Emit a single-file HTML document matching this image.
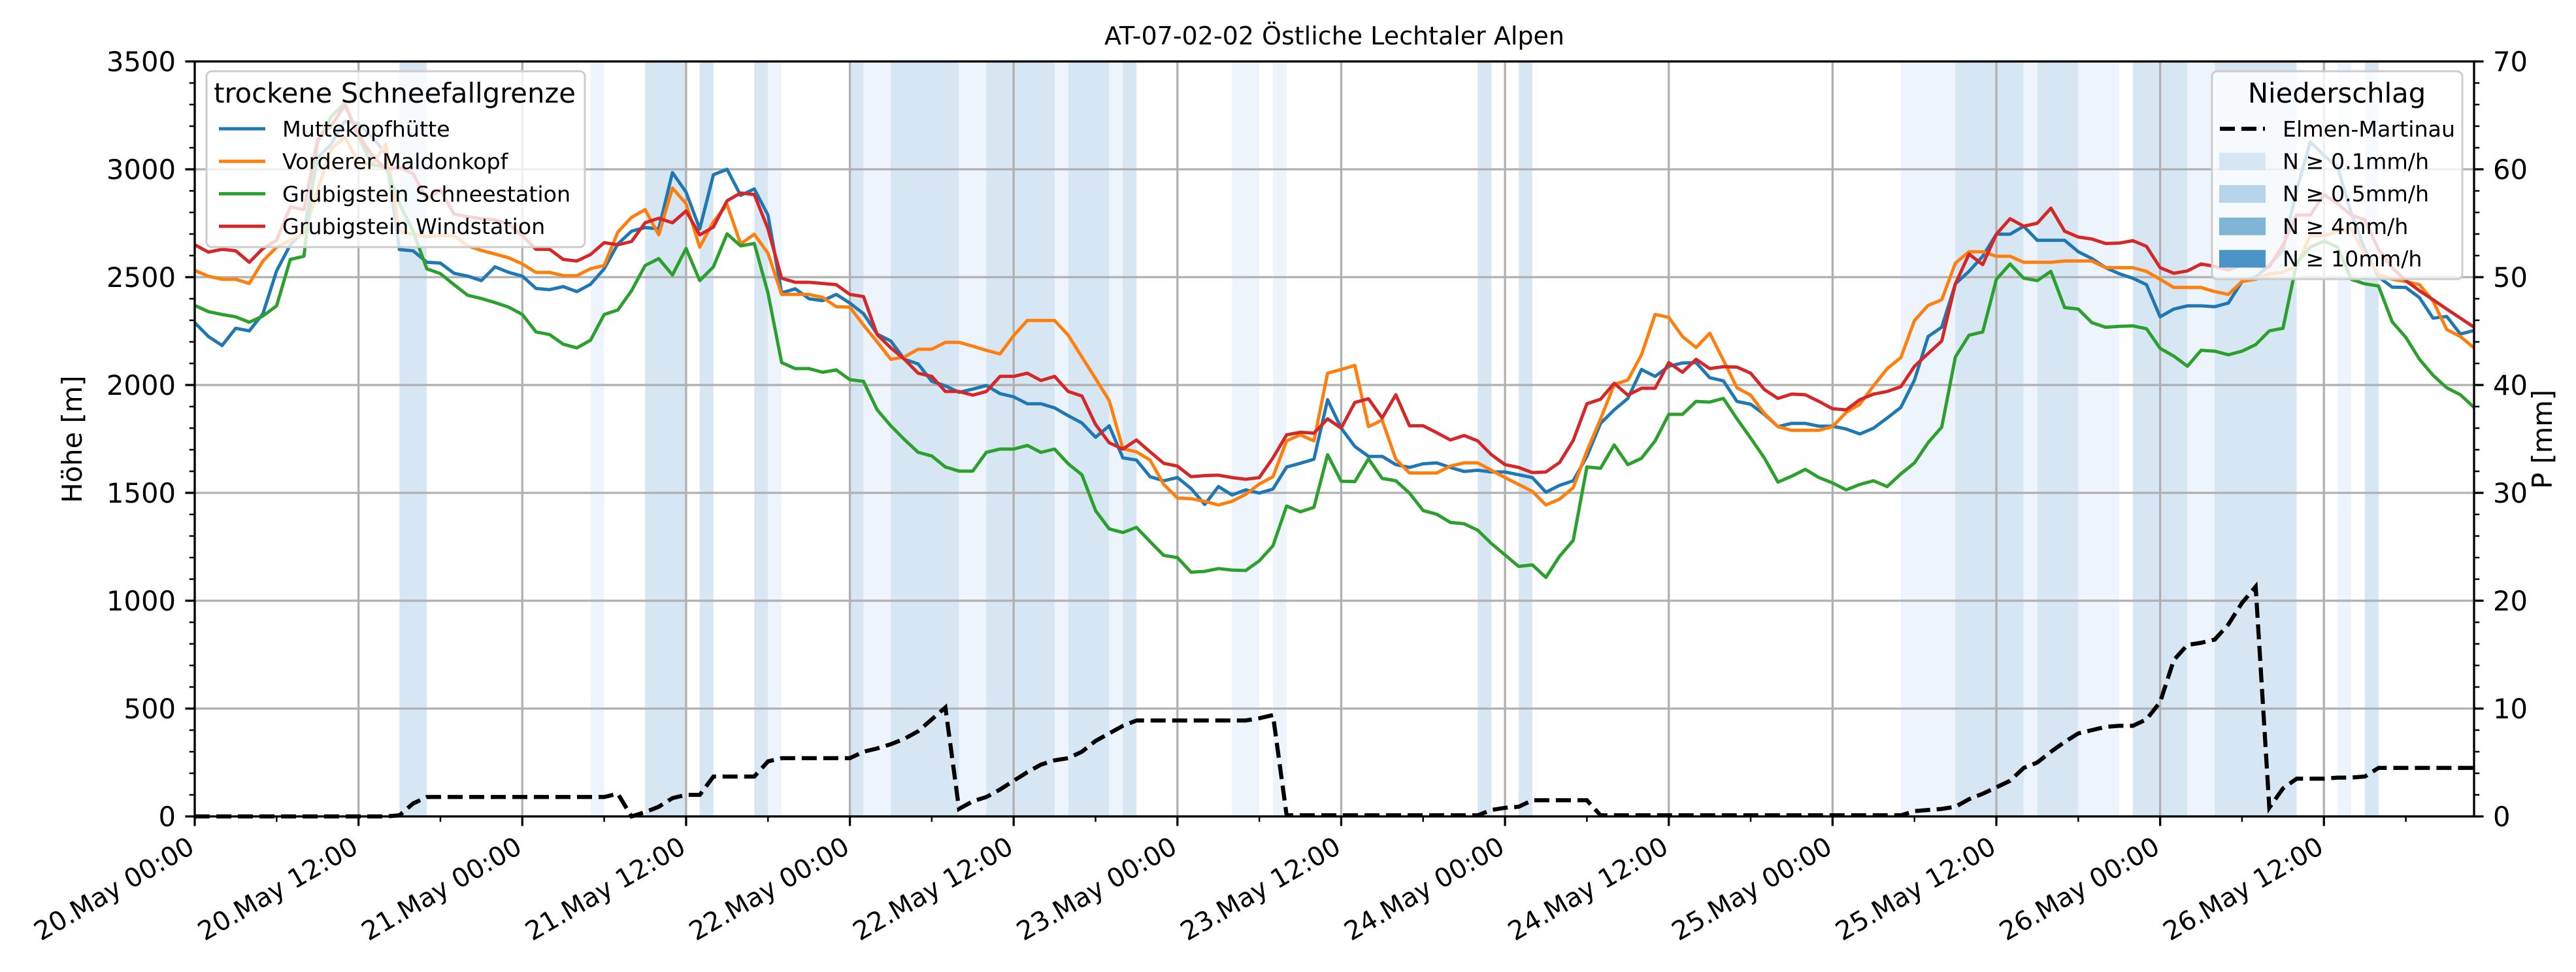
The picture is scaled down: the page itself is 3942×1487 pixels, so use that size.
<!DOCTYPE html>
<html><head><meta charset="utf-8"><style>
html,body{margin:0;padding:0;background:#fff;}
svg{display:block;font-family:"DejaVu Sans","Liberation Sans",sans-serif;}
</style></head><body>
<svg id="chart" width="3942" height="1487" viewBox="0 0 3942 1487" xmlns="http://www.w3.org/2000/svg">
<rect x="0" y="0" width="3942" height="1487" fill="#fff"/>
<text x="2042" y="68" font-size="38" text-anchor="middle">AT-07-02-02 Östliche Lechtaler Alpen</text>
<text transform="translate(125,672) rotate(-90)" font-size="41.7" text-anchor="middle">Höhe [m]</text>
<text transform="translate(3905,672) rotate(-90)" font-size="41.7" text-anchor="middle">P [mm]</text>
</svg>
<script>
const muttekopf = [2289,2225,2183,2263,2251,2331,2529,2650,2713,3053,3117,3223,3212,3150,3074,2628,2622,2569,2565,2518,2505,2484,2548,2522,2505,2448,2442,2456,2433,2467,2539,2654,2713,2730,
2724,2985,2894,2724,2975,3000,2879,2909,2788,2427,2446,2400,2391,2420,2380,2331,2236,2204,2119,2098,2017,1996,1966,1981,1998,1960,1945,1913,1913,1894,1858,1824,1758,
1811,1662,1652,1575,1556,1571,1520,1446,1529,1490,1514,1499,1518,1620,1637,1656,1932,1800,1715,1669,1669,1631,1618,1635,1639,1618,1599,1605,1597,1597,1584,1571,1503,
1535,1556,1669,1822,1885,1938,2072,2040,2087,2102,2104,2034,2019,1924,1911,1864,1807,1822,1822,1809,1809,1796,1773,1800,1847,1896,2023,2225,2268,2469,2527,2597,2699,
2699,2736,2671,2671,2671,2618,2586,2544,2516,2495,2465,2316,2352,2367,2367,2363,2380,2480,2501,2554,2628,2904,3127,3064,3011,2798,2628,2501,2454,2452,2405,2310,2318,2236,2253];
const maldonkopf = [2531,2505,2490,2490,2471,2575,2639,2671,2703,2904,3096,3149,3032,3021,3117,2709,2699,2688,2692,2692,2645,2624,2607,2590,2561,2522,2522,2507,2507,2539,2554,2709,2777,2813,
2696,2913,2841,2639,2756,2837,2654,2699,2611,2420,2420,2420,2406,2363,2361,2278,2200,2119,2130,2166,2166,2198,2198,2180,2161,2144,2229,2299,2299,2299,2231,2130,2030,
1928,1705,1690,1652,1539,1476,1473,1461,1444,1461,1493,1541,1575,1741,1769,1741,2055,2072,2091,1807,1837,1656,1592,1592,1592,1624,1639,1639,1605,1571,1539,1507,1444,
1471,1524,1694,1843,2002,2023,2140,2327,2314,2225,2174,2240,2115,1987,1953,1868,1807,1790,1790,1790,1807,1873,1911,1996,2076,2127,2299,2369,2395,2565,2618,2618,2597,
2597,2569,2569,2569,2575,2575,2575,2544,2544,2544,2527,2490,2452,2452,2452,2433,2420,2480,2490,2516,2522,2554,2692,2692,2713,2724,2607,2512,2490,2480,2465,2389,2257,2225,2172];
const schneestation = [2369,2340,2327,2316,2291,2320,2367,2582,2597,3127,3244,3308,3150,3021,3010,2841,2713,2539,2516,2465,2416,2401,2382,2361,2327,2246,2234,2189,2172,2208,2327,2348,2437,2554,
2586,2510,2633,2484,2548,2701,2645,2656,2427,2104,2076,2076,2059,2070,2025,2017,1885,1811,1747,1688,1671,1620,1601,1601,1688,1703,1703,1720,1688,1703,1635,1584,1418,
1333,1316,1340,1274,1210,1200,1132,1136,1149,1142,1140,1185,1255,1439,1412,1433,1677,1554,1552,1658,1567,1556,1499,1418,1401,1363,1357,1327,1265,1212,1159,1166,1108,
1206,1280,1620,1614,1722,1631,1660,1741,1864,1864,1924,1921,1938,1843,1754,1662,1550,1577,1609,1571,1546,1514,1539,1556,1529,1588,1639,1733,1805,2130,2231,2246,2490,
2561,2495,2484,2527,2359,2352,2289,2268,2272,2274,2261,2170,2134,2087,2161,2157,2140,2157,2187,2251,2263,2565,2639,2667,2639,2490,2469,2459,2293,2221,2119,2045,1987,1955,1896];
const windstation = [2650,2616,2629,2622,2569,2633,2671,2826,2813,3138,3202,3297,3160,3064,3000,3010,2979,2862,2904,2792,2781,2771,2766,2745,2692,2629,2629,2582,2575,2605,2660,2650,2665,2752,
2773,2752,2807,2696,2732,2854,2890,2883,2724,2495,2476,2476,2471,2465,2420,2410,2234,2172,2119,2055,2040,1970,1970,1953,1970,2040,2040,2055,2021,2040,1970,1949,1817,
1732,1703,1745,1690,1637,1624,1575,1580,1582,1571,1563,1571,1662,1769,1781,1777,1843,1800,1919,1936,1847,1955,1811,1811,1779,1745,1766,1741,1677,1631,1618,1594,1597,
1641,1743,1913,1934,2008,1953,1985,1985,2104,2059,2119,2076,2085,2083,2055,1979,1938,1958,1955,1924,1890,1885,1932,1958,1970,1992,2087,2146,2204,2469,2607,2558,2699,
2771,2736,2750,2820,2713,2686,2677,2656,2658,2669,2643,2544,2518,2529,2561,2550,2533,2558,2550,2548,2650,2788,2788,2883,2841,2788,2766,2628,2544,2484,2437,2395,2352,2310,2268];
const precip = [0,0,0,0,0,0,0,0,0,0,0,0,0,0,0,0.1,1.2,1.8,1.8,1.8,1.8,1.8,1.8,1.8,1.8,1.8,1.8,1.8,1.8,1.8,1.8,
2.1,0,0.4,0.9,1.7,2.0,2.0,3.7,3.7,3.7,3.7,5.1,5.4,5.4,5.4,5.4,5.4,5.4,6.0,6.3,6.7,7.2,7.9,9.0,10.1,
0.7,1.4,1.8,2.5,3.3,4.1,4.8,5.2,5.4,6.0,7.0,7.7,8.4,8.9,8.9,8.9,8.9,8.9,8.9,8.9,8.9,8.9,9.1,9.4,
0.1,0.1,0.1,0.1,0.1,0.1,0.1,0.1,0.1,0.1,0.1,0.1,0.1,0.1,0.1,0.6,0.8,0.9,1.5,1.5,1.5,1.5,1.5,
0.1,0.1,0.1,0.1,0.1,0.1,0.1,0.1,0.1,0.1,0.1,0.1,0.1,0.1,0.1,0.1,0.1,0.1,0.1,0.1,0.1,0.1,0.1,
0.5,0.6,0.7,0.9,1.6,2.1,2.7,3.3,4.5,5.0,6.0,6.9,7.7,8.0,8.3,8.4,8.4,9.0,10.6,14.5,15.9,16.1,16.4,17.8,19.8,21.3,
0.8,2.6,3.5,3.5,3.5,3.6,3.6,3.7,4.5,4.5,4.5,4.5,4.5,4.5,4.5,4.5];
const rainStart = [15,29,33,37,41,42,48,49,51,56,58,63,64,67,68,76,79,94,97,125,129,134,135,138,142,146,148,157,159];
const rainEnd   = [17,30,36,38,42,43,49,51,56,58,63,64,67,68,69,78,80,95,98,129,134,135,138,141,146,148,154,158,160];
const rainLevel = [2,1,2,2,2,1,2,1,2,1,2,1,2,1,2,1,1,2,2,1,2,1,2,1,2,1,2,1,2];
const yTicks = [0,500,1000,1500,2000,2500,3000,3500];
const pTicks = [0,10,20,30,40,50,60,70];
const xTickHours = [0,12,24,36,48,60,72,84,96,108,120,132,144,156];
const xTickLabels = ["20.May 00:00","20.May 12:00","21.May 00:00","21.May 12:00","22.May 00:00","22.May 12:00","23.May 00:00","23.May 12:00","24.May 00:00","24.May 12:00","25.May 00:00","25.May 12:00","26.May 00:00","26.May 12:00"];
const seriesNames = ["Muttekopfhütte","Vorderer Maldonkopf","Grubigstein Schneestation","Grubigstein Windstation"];
const seriesColors = ["#1f77b4","#ff7f0e","#2ca02c","#d62728"];

const L=298,R=3786,T=94,B=1249,HMAX=167;
function X(h){return L+h*(R-L)/HMAX;}
function Y(m){return B-m*(B-T)/3500;}
function YP(p){return B-p*(B-T)/70;}
const NS="http://www.w3.org/2000/svg";
const svg=document.getElementById('chart');
function mk(tag,attrs,parent){const e=document.createElementNS(NS,tag);for(const k in attrs)e.setAttribute(k,attrs[k]);(parent||svg).appendChild(e);return e;}

const gBands=mk('g',{});


rainStart.forEach((s,i)=>{
  const r=mk('rect',{x:X(s),y:T,width:X(rainEnd[i])-X(s),height:B-T,fill:rainLevel[i]===2?'#d6e6f3':'#eef4fb'},gBands);
  
  
});
const gGrid=mk('g',{stroke:'#b0b0b0','stroke-width':3.3});


yTicks.forEach(v=>{const l=mk('line',{x1:L,x2:R,y1:Y(v),y2:Y(v)},gGrid);});
xTickHours.forEach(h=>{const l=mk('line',{x1:X(h),x2:X(h),y1:T,y2:B},gGrid);});
[muttekopf,maldonkopf,schneestation,windstation].forEach((arr,si)=>{
  const p=mk('polyline',{points:arr.map((v,i)=>X(i).toFixed(1)+','+Y(v).toFixed(1)).join(' '),fill:'none',stroke:seriesColors[si],'stroke-width':5,'stroke-linejoin':'round'});
  
  
});
const gL=mk('g',{});


mk('rect',{x:316,y:109,width:579,height:269,rx:8,fill:'rgba(255,255,255,0.8)',stroke:'#cccccc','stroke-width':3},gL);
const lt=mk('text',{x:604,y:157,'font-size':41.7,'text-anchor':'middle'},gL);lt.textContent='trockene Schneefallgrenze';


seriesNames.forEach((n,i)=>{
  const yy=197+i*49.7;
  const ln=mk('line',{x1:335,x2:406,y1:yy,y2:yy,stroke:seriesColors[i],'stroke-width':5},gL);
  
  
  const t=mk('text',{x:432,y:yy+12,'font-size':33.3},gL);t.textContent=n;
  
  
});
const pl=mk('polyline',{points:precip.map((v,i)=>X(i).toFixed(1)+','+YP(v).toFixed(1)).join(' '),fill:'none',stroke:'#000','stroke-width':6.25,'stroke-dasharray':'23 10'});


const gR=mk('g',{});


mk('rect',{x:3385,y:109,width:383,height:318,rx:8,fill:'rgba(255,255,255,0.8)',stroke:'#cccccc','stroke-width':3},gR);
const rt=mk('text',{x:3576,y:157,'font-size':41.7,'text-anchor':'middle'},gR);rt.textContent='Niederschlag';


const dl=mk('line',{x1:3397,x2:3466,y1:197,y2:197,stroke:'#000','stroke-width':6.25,'stroke-dasharray':'23 10'},gR);


const rLabels=['Elmen-Martinau','N ≥ 0.1mm/h','N ≥ 0.5mm/h','N ≥ 4mm/h','N ≥ 10mm/h'];
const rCols=[null,'#d6e6f3','#b5d3e9','#80b5d8','#4b94c8'];
rLabels.forEach((n,i)=>{
  const yy=197+i*49.6;
  if(i>0){const pr=mk('rect',{x:3396,y:yy-13,width:71,height:27,fill:rCols[i]},gR);}
  const t=mk('text',{x:3493,y:yy+12,'font-size':33.3},gR);t.textContent=n;
  
  
});
const sp=mk('rect',{x:L,y:T,width:R-L,height:B-T,fill:'none',stroke:'#000','stroke-width':3.3});


const gT=mk('g',{stroke:'#000'});


for(let m=0;m<=3500;m+=100){const maj=m%500===0;mk('line',{x1:L,x2:L-(maj?14.6:8.3),y1:Y(m),y2:Y(m),'stroke-width':maj?3.3:2.5},gT);}
for(let p=0;p<=70;p+=2){const maj=p%10===0;mk('line',{x1:R,x2:R+(maj?14.6:8.3),y1:YP(p),y2:YP(p),'stroke-width':maj?3.3:2.5},gT);}
for(let h=0;h<=HMAX;h+=6){const maj=h%12===0;mk('line',{x1:X(h),x2:X(h),y1:B,y2:B+(maj?14.6:8.3),'stroke-width':maj?3.3:2.5},gT);}
yTicks.forEach(v=>{const t=mk('text',{x:269,y:Y(v)+15,'font-size':41.7,'text-anchor':'end'});t.textContent=String(v);});
pTicks.forEach(v=>{const t=mk('text',{x:3815,y:YP(v)+15,'font-size':41.7});t.textContent=String(v);});
xTickHours.forEach((h,i)=>{const ax=X(h)+2,ay=1303;const t=mk('text',{x:0,y:0,'font-size':40,'text-anchor':'end',transform:'translate('+ax+','+ay+') rotate(-30)'});t.textContent=xTickLabels[i];});
</script>
</body></html>
